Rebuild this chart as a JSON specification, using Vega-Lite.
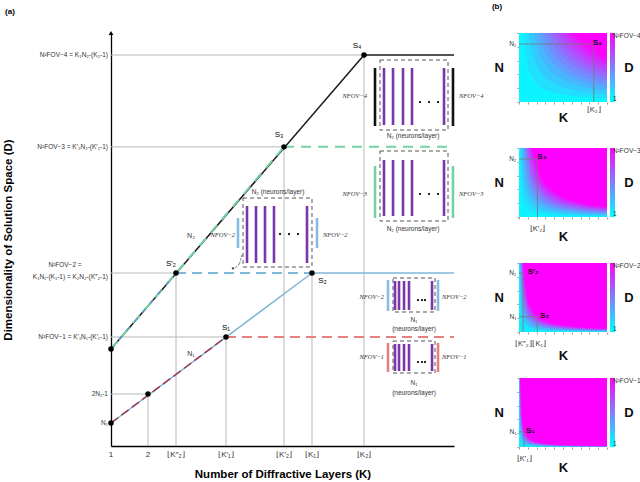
{
"$schema": "https://vega.github.io/schema/vega-lite/v6.json",
"padding": {"left": 2, "top": 2, "right": 0, "bottom": 0},
"spacing": 7,
"datasets": {
"seg": [
{"t":"ref","k":1,"d":124.21,"k2":7.838,"d2":124.21},
{"t":"ref","k":1,"d":95.7,"k2":5.676,"d2":95.7},
{"t":"ref","k":1,"d":56.55,"k2":2.757,"d2":56.55},
{"t":"ref","k":1,"d":36.69,"k2":4.108,"d2":36.69},
{"t":"ref","k":1,"d":19,"k2":2,"d2":19},
{"t":"ref","k":2,"d":2.86,"k2":2,"d2":19},
{"t":"ref","k":2.757,"d":2.86,"k2":2.757,"d2":56.55},
{"t":"ref","k":4.108,"d":2.86,"k2":4.108,"d2":36.69},
{"t":"ref","k":5.676,"d":2.86,"k2":5.676,"d2":95.7},
{"t":"ref","k":6.432,"d":2.86,"k2":6.432,"d2":56.55},
{"t":"ref","k":7.838,"d":2.86,"k2":7.838,"d2":124.21},
{"t":"n1","k":1,"d":10,"k2":6.432,"d2":56.55},
{"t":"n1","k":6.432,"d":56.55,"k2":10.27,"d2":56.55},
{"t":"n1d","k":1,"d":10,"k2":4.108,"d2":36.69},
{"t":"rd","k":4.108,"d":36.69,"k2":10.27,"d2":36.69},
{"t":"bd","k":2.757,"d":56.55,"k2":6.432,"d2":56.55},
{"t":"n2","k":1,"d":32.96,"k2":7.838,"d2":124.21},
{"t":"n2","k":7.838,"d":124.21,"k2":10.27,"d2":124.21},
{"t":"gd","k":1,"d":32.96,"k2":5.676,"d2":95.7},
{"t":"gd","k":5.676,"d":95.7,"k2":10.27,"d2":95.7},
{"t":"bd2","k":1,"d":32.96,"k2":2.757,"d2":56.55},
{"t":"ar","k":4.541,"d":62.14,"k2":4.473,"d2":59.35},
{"t":"ar","k":4.473,"d":59.35,"k2":4.351,"d2":58.1}
],
"box": [
{"k":8.27,"d":122.66,"k2":10.108,"d2":100.93},
{"k":8.27,"d":94.42,"k2":10.108,"d2":72.69},
{"k":8.622,"d":55.0,"k2":9.757,"d2":44.45},
{"k":8.622,"d":35.44,"k2":9.757,"d2":25.52},
{"k":4.568,"d":79.83,"k2":6.432,"d2":58.41}
],
"bar": [
{"t":"pu","k":8.378,"d":120.18,"d2":102.48},{"t":"pu","k":8.622,"d":120.18,"d2":102.48},{"t":"pu","k":8.892,"d":120.18,"d2":102.48},{"t":"pu","k":9.135,"d":120.18,"d2":102.48},{"t":"pu","k":10.0,"d":120.18,"d2":102.48},
{"t":"bk","k":8.135,"d":120.18,"d2":102.17},{"t":"bk","k":10.243,"d":120.18,"d2":102.17},
{"t":"pu","k":8.378,"d":91.62,"d2":74.24},{"t":"pu","k":8.622,"d":91.62,"d2":74.24},{"t":"pu","k":8.892,"d":91.62,"d2":74.24},{"t":"pu","k":9.135,"d":91.62,"d2":74.24},{"t":"pu","k":10.0,"d":91.62,"d2":74.24},
{"t":"gr","k":8.135,"d":89.76,"d2":73.62},{"t":"gr","k":10.243,"d":89.76,"d2":73.62},
{"t":"pu","k":8.676,"d":54.07,"d2":45.07},{"t":"pu","k":8.784,"d":54.07,"d2":45.07},{"t":"pu","k":8.919,"d":54.07,"d2":45.07},{"t":"pu","k":9.054,"d":54.07,"d2":45.07},{"t":"pu","k":9.676,"d":54.07,"d2":45.07},
{"t":"bl","k":8.486,"d":54.38,"d2":44.76},{"t":"bl","k":9.838,"d":54.38,"d2":44.76},
{"t":"pu","k":8.676,"d":34.51,"d2":26.14},{"t":"pu","k":8.784,"d":34.51,"d2":26.14},{"t":"pu","k":8.919,"d":34.51,"d2":26.14},{"t":"pu","k":9.054,"d":34.51,"d2":26.14},{"t":"pu","k":9.676,"d":34.51,"d2":26.14},
{"t":"rd","k":8.486,"d":34.82,"d2":25.83},{"t":"rd","k":9.838,"d":34.82,"d2":25.83},
{"t":"pu","k":4.676,"d":77.35,"d2":59.65},{"t":"pu","k":4.919,"d":77.35,"d2":59.65},{"t":"pu","k":5.162,"d":77.35,"d2":59.65},{"t":"pu","k":5.405,"d":77.35,"d2":59.65},{"t":"pu","k":6.297,"d":77.35,"d2":59.65},
{"t":"bl","k":4.432,"d":73.62,"d2":64.31},{"t":"bl","k":6.568,"d":73.62,"d2":64.31}
],
"dot": [
{"k":9.351,"d":109.62},{"k":9.595,"d":109.62},{"k":9.838,"d":109.62},
{"k":9.351,"d":81.07},{"k":9.595,"d":81.07},{"k":9.838,"d":81.07},
{"k":9.297,"d":48.17},{"k":9.405,"d":48.17},{"k":9.486,"d":48.17},
{"k":9.297,"d":28.93},{"k":9.405,"d":28.93},{"k":9.486,"d":28.93},
{"k":5.568,"d":68.65},{"k":5.811,"d":68.65},{"k":6.054,"d":68.65}
],
"pt": [
{"k":1,"d":10},{"k":2,"d":19},{"k":4.108,"d":36.69},{"k":6.432,"d":56.55},
{"k":1,"d":32.96},{"k":2.757,"d":56.55},{"k":5.676,"d":95.7},{"k":7.838,"d":124.21}
],
"arw": [
{"t":"y","k":1,"d":131.04},
{"t":"p","k":4.297,"d":57.9}
],
"txt": [
{"t":"lab","k":0.919,"d":124.21,"s":"N²FOV−4 = K₂N₂-(K₂-1)"},
{"t":"lab","k":0.919,"d":95.7,"s":"N²FOV−3 = K′₂N₂-(K′₂-1)"},
{"t":"lab","k":0.919,"d":55.31,"s":"K₁N₁-(K₁-1) = K₂N₂-(K″₂-1)"},
{"t":"lab","k":0.919,"d":36.69,"s":"N²FOV−1 = K′₁N₁-(K′₁-1)"},
{"t":"lab","k":0.919,"d":19,"s":"2N₁-1"},
{"t":"lab","k":0.919,"d":10,"s":"N₁"},
{"t":"labc","k":-0.243,"d":58.9,"s":"N²FOV−2 ="},
{"t":"xl","k":1,"d":0.06,"s":"1"},
{"t":"xl","k":2,"d":0.06,"s":"2"},
{"t":"xl","k":2.757,"d":0.06,"s":"⌊K″₂⌋"},
{"t":"xl","k":4.108,"d":0.06,"s":"⌊K′₁⌋"},
{"t":"xl","k":5.676,"d":0.06,"s":"⌊K′₂⌋"},
{"t":"xl","k":6.432,"d":0.06,"s":"⌊K₁⌋"},
{"t":"xl","k":7.838,"d":0.06,"s":"⌊K₂⌋"},
{"t":"pt","k":4.108,"d":39.6,"s":"S₁"},
{"t":"pt","k":2.62,"d":59.2,"s":"S′₂"},
{"t":"pt","k":5.54,"d":99.4,"s":"S₃"},
{"t":"pt","k":7.65,"d":127.0,"s":"S₄"},
{"t":"ptl","k":6.6,"d":54.0,"s":"S₂"},
{"t":"nl","k":3.162,"d":31.41,"s":"N₁"},
{"t":"nl","k":3.162,"d":68.03,"s":"N₂"},
{"t":"ins","k":9.162,"d":99.07,"s":"N₂ (neurons/layer)"},
{"t":"ins","k":9.162,"d":70.21,"s":"N₂ (neurons/layer)"},
{"t":"ins","k":5.514,"d":81.69,"s":"N₂ (neurons/layer)"},
{"t":"ins","k":9.189,"d":41.97,"s":"N₁"},
{"t":"ins","k":9.189,"d":39.17,"s":"(neurons/layer)"},
{"t":"ins","k":9.189,"d":22.41,"s":"N₁"},
{"t":"ins","k":9.189,"d":19.31,"s":"(neurons/layer)"},
{"t":"fovl","k":7.92,"d":111.5,"s":"NFOV−4"},
{"t":"fovl","k":7.92,"d":81.07,"s":"NFOV−3"},
{"t":"fovl","k":8.378,"d":49.1,"s":"NFOV−2"},
{"t":"fovl","k":8.378,"d":30.48,"s":"NFOV−1"},
{"t":"fovl","k":4.351,"d":68.34,"s":"NFOV−2"},
{"t":"fovr","k":10.405,"d":111.5,"s":"NFOV−4"},
{"t":"fovr","k":10.405,"d":81.07,"s":"NFOV−3"},
{"t":"fovr","k":9.946,"d":49.1,"s":"NFOV−2"},
{"t":"fovr","k":9.946,"d":30.48,"s":"NFOV−1"},
{"t":"fovr","k":6.73,"d":68.34,"s":"NFOV−2"},
{"t":"pan","k":-1.73,"d":137.6,"s":"(a)"}
],
"bg": [
{"p":1,"u":0,"u2":1,"v":0,"v2":1,"c":0.042},
{"p":2,"u":0,"u2":1,"v":0,"v2":1,"c":0.042},
{"p":3,"u":0,"u2":1,"v":0,"v2":1,"c":0.083},
{"p":4,"u":0,"u2":1,"v":0,"v2":1,"c":0.083}
],
"hm": [
{"p":1,"i":11,"c":0.125,"u":0.0542,"v":1},{"p":1,"i":11,"c":0.125,"u":0.0971,"v":0.5582},{"p":1,"i":11,"c":0.125,"u":0.1739,"v":0.3116},{"p":1,"i":11,"c":0.125,"u":0.3116,"v":0.1739},{"p":1,"i":11,"c":0.125,"u":0.5582,"v":0.0971},{"p":1,"i":11,"c":0.125,"u":1,"v":0.0542},
{"p":1,"i":12,"c":0.208,"u":0.1083,"v":1},{"p":1,"i":12,"c":0.208,"u":0.169,"v":0.6412},{"p":1,"i":12,"c":0.208,"u":0.2636,"v":0.4111},{"p":1,"i":12,"c":0.208,"u":0.4111,"v":0.2636},{"p":1,"i":12,"c":0.208,"u":0.6412,"v":0.169},{"p":1,"i":12,"c":0.208,"u":1,"v":0.1083},
{"p":1,"i":13,"c":0.292,"u":0.1625,"v":1},{"p":1,"i":13,"c":0.292,"u":0.2337,"v":0.6953},{"p":1,"i":13,"c":0.292,"u":0.3361,"v":0.4834},{"p":1,"i":13,"c":0.292,"u":0.4834,"v":0.3361},{"p":1,"i":13,"c":0.292,"u":0.6953,"v":0.2337},{"p":1,"i":13,"c":0.292,"u":1,"v":0.1625},
{"p":1,"i":14,"c":0.375,"u":0.2167,"v":1},{"p":1,"i":14,"c":0.375,"u":0.2942,"v":0.7365},{"p":1,"i":14,"c":0.375,"u":0.3995,"v":0.5424},{"p":1,"i":14,"c":0.375,"u":0.5424,"v":0.3995},{"p":1,"i":14,"c":0.375,"u":0.7365,"v":0.2942},{"p":1,"i":14,"c":0.375,"u":1,"v":0.2167},
{"p":1,"i":15,"c":0.458,"u":0.2708,"v":1},{"p":1,"i":15,"c":0.458,"u":0.3517,"v":0.7701},{"p":1,"i":15,"c":0.458,"u":0.4567,"v":0.5931},{"p":1,"i":15,"c":0.458,"u":0.5931,"v":0.4567},{"p":1,"i":15,"c":0.458,"u":0.7701,"v":0.3517},{"p":1,"i":15,"c":0.458,"u":1,"v":0.2708},
{"p":1,"i":16,"c":0.542,"u":0.325,"v":1},{"p":1,"i":16,"c":0.542,"u":0.4069,"v":0.7987},{"p":1,"i":16,"c":0.542,"u":0.5095,"v":0.6379},{"p":1,"i":16,"c":0.542,"u":0.6379,"v":0.5095},{"p":1,"i":16,"c":0.542,"u":0.7987,"v":0.4069},{"p":1,"i":16,"c":0.542,"u":1,"v":0.325},
{"p":1,"i":17,"c":0.625,"u":0.3792,"v":1},{"p":1,"i":17,"c":0.625,"u":0.4604,"v":0.8237},{"p":1,"i":17,"c":0.625,"u":0.5589,"v":0.6785},{"p":1,"i":17,"c":0.625,"u":0.6785,"v":0.5589},{"p":1,"i":17,"c":0.625,"u":0.8237,"v":0.4604},{"p":1,"i":17,"c":0.625,"u":1,"v":0.3792},
{"p":1,"i":18,"c":0.708,"u":0.4333,"v":1},{"p":1,"i":18,"c":0.708,"u":0.5122,"v":0.846},{"p":1,"i":18,"c":0.708,"u":0.6055,"v":0.7157},{"p":1,"i":18,"c":0.708,"u":0.7157,"v":0.6055},{"p":1,"i":18,"c":0.708,"u":0.846,"v":0.5122},{"p":1,"i":18,"c":0.708,"u":1,"v":0.4333},
{"p":1,"i":19,"c":0.792,"u":0.4875,"v":1},{"p":1,"i":19,"c":0.792,"u":0.5627,"v":0.8661},{"p":1,"i":19,"c":0.792,"u":0.6497,"v":0.7501},{"p":1,"i":19,"c":0.792,"u":0.7501,"v":0.6497},{"p":1,"i":19,"c":0.792,"u":0.8661,"v":0.5627},{"p":1,"i":19,"c":0.792,"u":1,"v":0.4875},
{"p":1,"i":20,"c":0.875,"u":0.5417,"v":1},{"p":1,"i":20,"c":0.875,"u":0.6123,"v":0.8846},{"p":1,"i":20,"c":0.875,"u":0.6922,"v":0.7825},{"p":1,"i":20,"c":0.875,"u":0.7825,"v":0.6922},{"p":1,"i":20,"c":0.875,"u":0.8846,"v":0.6123},{"p":1,"i":20,"c":0.875,"u":1,"v":0.5417},
{"p":1,"i":21,"c":0.958,"u":0.5958,"v":1},{"p":1,"i":21,"c":0.958,"u":0.6608,"v":0.9016},{"p":1,"i":21,"c":0.958,"u":0.7329,"v":0.8129},{"p":1,"i":21,"c":0.958,"u":0.8129,"v":0.7329},{"p":1,"i":21,"c":0.958,"u":0.9016,"v":0.6608},{"p":1,"i":21,"c":0.958,"u":1,"v":0.5958},
{"p":1,"i":22,"c":1,"u":0.65,"v":1},{"p":1,"i":22,"c":1,"u":0.7086,"v":0.9175},{"p":1,"i":22,"c":1,"u":0.7723,"v":0.8418},{"p":1,"i":22,"c":1,"u":0.8418,"v":0.7723},{"p":1,"i":22,"c":1,"u":0.9175,"v":0.7086},{"p":1,"i":22,"c":1,"u":1,"v":0.65},
{"p":2,"i":11,"c":0.125,"u":0.0125,"v":1},{"p":2,"i":11,"c":0.125,"u":0.03,"v":0.4163},{"p":2,"i":11,"c":0.125,"u":0.0722,"v":0.1733},{"p":2,"i":11,"c":0.125,"u":0.1733,"v":0.0722},{"p":2,"i":11,"c":0.125,"u":0.4163,"v":0.03},{"p":2,"i":11,"c":0.125,"u":1,"v":0.0125},
{"p":2,"i":12,"c":0.208,"u":0.025,"v":1},{"p":2,"i":12,"c":0.208,"u":0.0523,"v":0.4782},{"p":2,"i":12,"c":0.208,"u":0.1094,"v":0.2287},{"p":2,"i":12,"c":0.208,"u":0.2287,"v":0.1094},{"p":2,"i":12,"c":0.208,"u":0.4782,"v":0.0523},{"p":2,"i":12,"c":0.208,"u":1,"v":0.025},
{"p":2,"i":13,"c":0.292,"u":0.0375,"v":1},{"p":2,"i":13,"c":0.292,"u":0.0723,"v":0.5186},{"p":2,"i":13,"c":0.292,"u":0.1395,"v":0.269},{"p":2,"i":13,"c":0.292,"u":0.269,"v":0.1395},{"p":2,"i":13,"c":0.292,"u":0.5186,"v":0.0723},{"p":2,"i":13,"c":0.292,"u":1,"v":0.0375},
{"p":2,"i":14,"c":0.375,"u":0.05,"v":1},{"p":2,"i":14,"c":0.375,"u":0.091,"v":0.5493},{"p":2,"i":14,"c":0.375,"u":0.1657,"v":0.3017},{"p":2,"i":14,"c":0.375,"u":0.3017,"v":0.1657},{"p":2,"i":14,"c":0.375,"u":0.5493,"v":0.091},{"p":2,"i":14,"c":0.375,"u":1,"v":0.05},
{"p":2,"i":15,"c":0.458,"u":0.0625,"v":1},{"p":2,"i":15,"c":0.458,"u":0.1088,"v":0.5744},{"p":2,"i":15,"c":0.458,"u":0.1895,"v":0.3299},{"p":2,"i":15,"c":0.458,"u":0.3299,"v":0.1895},{"p":2,"i":15,"c":0.458,"u":0.5744,"v":0.1088},{"p":2,"i":15,"c":0.458,"u":1,"v":0.0625},
{"p":2,"i":16,"c":0.542,"u":0.075,"v":1},{"p":2,"i":16,"c":0.542,"u":0.1259,"v":0.5957},{"p":2,"i":16,"c":0.542,"u":0.2114,"v":0.3549},{"p":2,"i":16,"c":0.542,"u":0.3549,"v":0.2114},{"p":2,"i":16,"c":0.542,"u":0.5957,"v":0.1259},{"p":2,"i":16,"c":0.542,"u":1,"v":0.075},
{"p":2,"i":17,"c":0.625,"u":0.0875,"v":1},{"p":2,"i":17,"c":0.625,"u":0.1424,"v":0.6143},{"p":2,"i":17,"c":0.625,"u":0.2318,"v":0.3774},{"p":2,"i":17,"c":0.625,"u":0.3774,"v":0.2318},{"p":2,"i":17,"c":0.625,"u":0.6143,"v":0.1424},{"p":2,"i":17,"c":0.625,"u":1,"v":0.0875},
{"p":2,"i":18,"c":0.708,"u":0.1,"v":1},{"p":2,"i":18,"c":0.708,"u":0.1585,"v":0.631},{"p":2,"i":18,"c":0.708,"u":0.2512,"v":0.3981},{"p":2,"i":18,"c":0.708,"u":0.3981,"v":0.2512},{"p":2,"i":18,"c":0.708,"u":0.631,"v":0.1585},{"p":2,"i":18,"c":0.708,"u":1,"v":0.1},
{"p":2,"i":19,"c":0.792,"u":0.1125,"v":1},{"p":2,"i":19,"c":0.792,"u":0.1741,"v":0.646},{"p":2,"i":19,"c":0.792,"u":0.2696,"v":0.4173},{"p":2,"i":19,"c":0.792,"u":0.4173,"v":0.2696},{"p":2,"i":19,"c":0.792,"u":0.646,"v":0.1741},{"p":2,"i":19,"c":0.792,"u":1,"v":0.1125},
{"p":2,"i":20,"c":0.875,"u":0.125,"v":1},{"p":2,"i":20,"c":0.875,"u":0.1895,"v":0.6598},{"p":2,"i":20,"c":0.875,"u":0.2872,"v":0.4353},{"p":2,"i":20,"c":0.875,"u":0.4353,"v":0.2872},{"p":2,"i":20,"c":0.875,"u":0.6598,"v":0.1895},{"p":2,"i":20,"c":0.875,"u":1,"v":0.125},
{"p":2,"i":21,"c":0.958,"u":0.1375,"v":1},{"p":2,"i":21,"c":0.958,"u":0.2044,"v":0.6724},{"p":2,"i":21,"c":0.958,"u":0.304,"v":0.4521},{"p":2,"i":21,"c":0.958,"u":0.4521,"v":0.304},{"p":2,"i":21,"c":0.958,"u":0.6724,"v":0.2044},{"p":2,"i":21,"c":0.958,"u":1,"v":0.1375},
{"p":2,"i":22,"c":1,"u":0.15,"v":1},{"p":2,"i":22,"c":1,"u":0.2193,"v":0.6843},{"p":2,"i":22,"c":1,"u":0.3205,"v":0.4683},{"p":2,"i":22,"c":1,"u":0.4683,"v":0.3205},{"p":2,"i":22,"c":1,"u":0.6843,"v":0.2193},{"p":2,"i":22,"c":1,"u":1,"v":0.15},
{"p":3,"i":11,"c":0.25,"u":0.0083,"v":1},{"p":3,"i":11,"c":0.25,"u":0.0217,"v":0.3838},{"p":3,"i":11,"c":0.25,"u":0.0565,"v":0.1473},{"p":3,"i":11,"c":0.25,"u":0.1473,"v":0.0565},{"p":3,"i":11,"c":0.25,"u":0.3838,"v":0.0217},{"p":3,"i":11,"c":0.25,"u":1,"v":0.0083},
{"p":3,"i":12,"c":0.417,"u":0.0167,"v":1},{"p":3,"i":12,"c":0.417,"u":0.0378,"v":0.4409},{"p":3,"i":12,"c":0.417,"u":0.0857,"v":0.1944},{"p":3,"i":12,"c":0.417,"u":0.1944,"v":0.0857},{"p":3,"i":12,"c":0.417,"u":0.4409,"v":0.0378},{"p":3,"i":12,"c":0.417,"u":1,"v":0.0167},
{"p":3,"i":13,"c":0.583,"u":0.025,"v":1},{"p":3,"i":13,"c":0.583,"u":0.0523,"v":0.4782},{"p":3,"i":13,"c":0.583,"u":0.1094,"v":0.2287},{"p":3,"i":13,"c":0.583,"u":0.2287,"v":0.1094},{"p":3,"i":13,"c":0.583,"u":0.4782,"v":0.0523},{"p":3,"i":13,"c":0.583,"u":1,"v":0.025},
{"p":3,"i":14,"c":0.75,"u":0.0333,"v":1},{"p":3,"i":14,"c":0.75,"u":0.0658,"v":0.5065},{"p":3,"i":14,"c":0.75,"u":0.1299,"v":0.2565},{"p":3,"i":14,"c":0.75,"u":0.2565,"v":0.1299},{"p":3,"i":14,"c":0.75,"u":0.5065,"v":0.0658},{"p":3,"i":14,"c":0.75,"u":1,"v":0.0333},
{"p":3,"i":15,"c":0.917,"u":0.0417,"v":1},{"p":3,"i":15,"c":0.917,"u":0.0787,"v":0.5296},{"p":3,"i":15,"c":0.917,"u":0.1485,"v":0.2805},{"p":3,"i":15,"c":0.917,"u":0.2805,"v":0.1485},{"p":3,"i":15,"c":0.917,"u":0.5296,"v":0.0787},{"p":3,"i":15,"c":0.917,"u":1,"v":0.0417},
{"p":3,"i":16,"c":1,"u":0.05,"v":1},{"p":3,"i":16,"c":1,"u":0.091,"v":0.5493},{"p":3,"i":16,"c":1,"u":0.1657,"v":0.3017},{"p":3,"i":16,"c":1,"u":0.3017,"v":0.1657},{"p":3,"i":16,"c":1,"u":0.5493,"v":0.091},{"p":3,"i":16,"c":1,"u":1,"v":0.05},
{"p":4,"i":11,"c":0.25,"u":0.0025,"v":1},{"p":4,"i":11,"c":0.25,"u":0.0083,"v":0.3017},{"p":4,"i":11,"c":0.25,"u":0.0275,"v":0.091},{"p":4,"i":11,"c":0.25,"u":0.091,"v":0.0275},{"p":4,"i":11,"c":0.25,"u":0.3017,"v":0.0083},{"p":4,"i":11,"c":0.25,"u":1,"v":0.0025},
{"p":4,"i":12,"c":0.417,"u":0.005,"v":1},{"p":4,"i":12,"c":0.417,"u":0.0144,"v":0.3466},{"p":4,"i":12,"c":0.417,"u":0.0416,"v":0.1201},{"p":4,"i":12,"c":0.417,"u":0.1201,"v":0.0416},{"p":4,"i":12,"c":0.417,"u":0.3466,"v":0.0144},{"p":4,"i":12,"c":0.417,"u":1,"v":0.005},
{"p":4,"i":13,"c":0.583,"u":0.0075,"v":1},{"p":4,"i":13,"c":0.583,"u":0.0199,"v":0.3758},{"p":4,"i":13,"c":0.583,"u":0.0531,"v":0.1412},{"p":4,"i":13,"c":0.583,"u":0.1412,"v":0.0531},{"p":4,"i":13,"c":0.583,"u":0.3758,"v":0.0199},{"p":4,"i":13,"c":0.583,"u":1,"v":0.0075},
{"p":4,"i":14,"c":0.75,"u":0.01,"v":1},{"p":4,"i":14,"c":0.75,"u":0.0251,"v":0.3981},{"p":4,"i":14,"c":0.75,"u":0.0631,"v":0.1585},{"p":4,"i":14,"c":0.75,"u":0.1585,"v":0.0631},{"p":4,"i":14,"c":0.75,"u":0.3981,"v":0.0251},{"p":4,"i":14,"c":0.75,"u":1,"v":0.01},
{"p":4,"i":15,"c":0.917,"u":0.0125,"v":1},{"p":4,"i":15,"c":0.917,"u":0.03,"v":0.4163},{"p":4,"i":15,"c":0.917,"u":0.0722,"v":0.1733},{"p":4,"i":15,"c":0.917,"u":0.1733,"v":0.0722},{"p":4,"i":15,"c":0.917,"u":0.4163,"v":0.03},{"p":4,"i":15,"c":0.917,"u":1,"v":0.0125},
{"p":4,"i":16,"c":1,"u":0.015,"v":1},{"p":4,"i":16,"c":1,"u":0.0347,"v":0.4317},{"p":4,"i":16,"c":1,"u":0.0805,"v":0.1864},{"p":4,"i":16,"c":1,"u":0.1864,"v":0.0805},{"p":4,"i":16,"c":1,"u":0.4317,"v":0.0347},{"p":4,"i":16,"c":1,"u":1,"v":0.015}
],
"hl": [
{"p":1,"u":0,"v":0.84,"u2":0.85,"v2":0.84},{"p":1,"u":0.85,"v":0,"u2":0.85,"v2":0.84},
{"p":2,"u":0,"v":0.84,"u2":0.21,"v2":0.84},{"p":2,"u":0.21,"v":0,"u2":0.21,"v2":0.84},
{"p":3,"u":0,"v":0.855,"u2":0.045,"v2":0.855},{"p":3,"u":0.045,"v":0,"u2":0.045,"v2":0.855},
{"p":3,"u":0,"v":0.22,"u2":0.207,"v2":0.22},{"p":3,"u":0.207,"v":0,"u2":0.207,"v2":0.22},
{"p":4,"u":0,"v":0.22,"u2":0.057,"v2":0.22},{"p":4,"u":0.057,"v":0,"u2":0.057,"v2":0.22}
],
"ht": [
{"p":1,"t":"l","u":-0.03,"v":0.84,"s":"N₂"},
{"p":1,"t":"s","u":0.89,"v":0.86,"s":"S₄"},
{"p":1,"t":"k","u":0.85,"v":-0.12,"s":"⌊K₂⌋"},
{"p":1,"t":"D","u":1.25,"v":0.5,"s":"D"},
{"p":1,"t":"b","u":-0.25,"v":1.38,"s":"(b)"},
{"p":2,"t":"l","u":-0.03,"v":0.84,"s":"N₂"},
{"p":2,"t":"s","u":0.26,"v":0.87,"s":"S₃"},
{"p":2,"t":"k","u":0.21,"v":-0.17,"s":"⌊K′₂⌋"},
{"p":2,"t":"D","u":1.25,"v":0.5,"s":"D"},
{"p":3,"t":"l","u":-0.03,"v":0.855,"s":"N₂"},
{"p":3,"t":"s","u":0.16,"v":0.87,"s":"S′₂"},
{"p":3,"t":"l","u":-0.03,"v":0.22,"s":"N₁"},
{"p":3,"t":"s","u":0.29,"v":0.23,"s":"S₂"},
{"p":3,"t":"k","u":0.05,"v":-0.17,"s":"⌊K″₂⌋"},
{"p":3,"t":"k","u":0.23,"v":-0.17,"s":"⌊K₁⌋"},
{"p":3,"t":"D","u":1.25,"v":0.5,"s":"D"},
{"p":4,"t":"l","u":-0.03,"v":0.22,"s":"N₁"},
{"p":4,"t":"s","u":0.13,"v":0.23,"s":"S₁"},
{"p":4,"t":"k","u":0.06,"v":-0.18,"s":"⌊K′₁⌋"},
{"p":4,"t":"D","u":1.25,"v":0.5,"s":"D"}
]
},
"hconcat": [
{
"width": 343, "height": 413,
"encoding": {
 "x": {"field":"k","type":"quantitative","scale":{"domain":[1,10.27],"nice":false,"zero":false},"axis":{"title":"Number of Diffractive Layers (K)","labels":false,"ticks":false,"grid":false,"domainColor":"#000","domainWidth":1.3,"titleFontSize":11.5,"titleFontWeight":"bold","titlePadding":22,"titleColor":"#000"}},
 "y": {"field":"d","type":"quantitative","scale":{"domain":[2.86,131.04],"nice":false,"zero":false},"axis":{"title":"Dimensionality of Solution Space (D)","labels":false,"ticks":false,"grid":false,"domainColor":"#000","domainWidth":1.3,"titleFontSize":11.5,"titleFontWeight":"bold","titlePadding":98,"titleColor":"#000"}}
},
"layer": [
 {"data":{"name":"seg"},"transform":[{"filter":"datum.t=='ref'"}],"mark":{"type":"rule","color":"#b8b8b8","strokeWidth":1},"encoding":{"x2":{"field":"k2"},"y2":{"field":"d2"}}},
 {"data":{"name":"seg"},"transform":[{"filter":"datum.t=='n1'"}],"mark":{"type":"rule","color":"#80b6d8","strokeWidth":1.5},"encoding":{"x2":{"field":"k2"},"y2":{"field":"d2"}}},
 {"data":{"name":"seg"},"transform":[{"filter":"datum.t=='n1d'"}],"mark":{"type":"rule","color":"#9e3a55","strokeWidth":1.5,"strokeDash":[9,4]},"encoding":{"x2":{"field":"k2"},"y2":{"field":"d2"}}},
 {"data":{"name":"seg"},"transform":[{"filter":"datum.t=='rd'"}],"mark":{"type":"rule","color":"#e58080","strokeWidth":2,"strokeDash":[10,6]},"encoding":{"x2":{"field":"k2"},"y2":{"field":"d2"}}},
 {"data":{"name":"seg"},"transform":[{"filter":"datum.t=='bd'"}],"mark":{"type":"rule","color":"#80b6d8","strokeWidth":2,"strokeDash":[10,6]},"encoding":{"x2":{"field":"k2"},"y2":{"field":"d2"}}},
 {"data":{"name":"seg"},"transform":[{"filter":"datum.t=='n2'"}],"mark":{"type":"rule","color":"#1a1a1a","strokeWidth":1.5},"encoding":{"x2":{"field":"k2"},"y2":{"field":"d2"}}},
 {"data":{"name":"seg"},"transform":[{"filter":"datum.t=='gd'"}],"mark":{"type":"rule","color":"#74d3a5","strokeWidth":2,"strokeDash":[10,7]},"encoding":{"x2":{"field":"k2"},"y2":{"field":"d2"}}},
 {"data":{"name":"seg"},"transform":[{"filter":"datum.t=='bd2'"}],"mark":{"type":"rule","color":"#5a9fc8","strokeWidth":1.5,"strokeDash":[5,7]},"encoding":{"x2":{"field":"k2"},"y2":{"field":"d2"}}},
 {"data":{"name":"seg"},"transform":[{"filter":"datum.t=='ar'"}],"mark":{"type":"rule","color":"#444","strokeWidth":0.8,"strokeDash":[2,1.5]},"encoding":{"x2":{"field":"k2"},"y2":{"field":"d2"}}},
 {"data":{"name":"box"},"mark":{"type":"rect","filled":false,"stroke":"#555","strokeWidth":1,"strokeDash":[4,3]},"encoding":{"x2":{"field":"k2"},"y2":{"field":"d2"}}},
 {"data":{"name":"bar"},"mark":{"type":"rule","strokeWidth":2.6},"encoding":{"y2":{"field":"d2"},"color":{"field":"t","type":"nominal","legend":null,"scale":{"domain":["pu","bk","gr","bl","rd"],"range":["#7b36a8","#111111","#74d3a5","#86bde0","#e57f7f"]}}}},
 {"data":{"name":"dot"},"mark":{"type":"circle","size":5,"color":"#000","opacity":1}},
 {"data":{"name":"pt"},"mark":{"type":"circle","size":30,"color":"#000","opacity":1}},
 {"data":{"name":"arw"},"transform":[{"filter":"datum.t=='y'"}],"mark":{"type":"point","shape":"triangle-up","size":22,"filled":true,"color":"#000","opacity":1}},
 {"data":{"name":"arw"},"transform":[{"filter":"datum.t=='p'"}],"mark":{"type":"point","shape":"triangle-down","size":8,"filled":true,"color":"#222","opacity":1}},
 {"data":{"name":"txt"},"transform":[{"filter":"datum.t=='lab'"}],"mark":{"type":"text","align":"right","baseline":"middle","fontSize":6.5,"color":"#333"},"encoding":{"text":{"field":"s"}}},
 {"data":{"name":"txt"},"transform":[{"filter":"datum.t=='labc'"}],"mark":{"type":"text","align":"center","baseline":"middle","fontSize":6.5,"color":"#333"},"encoding":{"text":{"field":"s"}}},
 {"data":{"name":"txt"},"transform":[{"filter":"datum.t=='xl'"}],"mark":{"type":"text","align":"center","baseline":"middle","fontSize":8,"color":"#333"},"encoding":{"text":{"field":"s"}}},
 {"data":{"name":"txt"},"transform":[{"filter":"datum.t=='pt'"}],"mark":{"type":"text","align":"center","baseline":"middle","fontSize":8,"color":"#000"},"encoding":{"text":{"field":"s"}}},
 {"data":{"name":"txt"},"transform":[{"filter":"datum.t=='ptl'"}],"mark":{"type":"text","align":"left","baseline":"middle","fontSize":8,"color":"#000"},"encoding":{"text":{"field":"s"}}},
 {"data":{"name":"txt"},"transform":[{"filter":"datum.t=='nl'"}],"mark":{"type":"text","align":"center","baseline":"middle","fontSize":7,"color":"#333"},"encoding":{"text":{"field":"s"}}},
 {"data":{"name":"txt"},"transform":[{"filter":"datum.t=='ins'"}],"mark":{"type":"text","align":"center","baseline":"middle","fontSize":6.5,"color":"#333"},"encoding":{"text":{"field":"s"}}},
 {"data":{"name":"txt"},"transform":[{"filter":"datum.t=='fovl'"}],"mark":{"type":"text","align":"right","baseline":"middle","fontSize":6.5,"font":"Liberation Serif","fontStyle":"italic","color":"#333"},"encoding":{"text":{"field":"s"}}},
 {"data":{"name":"txt"},"transform":[{"filter":"datum.t=='fovr'"}],"mark":{"type":"text","align":"left","baseline":"middle","fontSize":6.5,"font":"Liberation Serif","fontStyle":"italic","color":"#333"},"encoding":{"text":{"field":"s"}}},
 {"data":{"name":"txt"},"transform":[{"filter":"datum.t=='pan'"}],"mark":{"type":"text","align":"center","baseline":"middle","fontSize":8,"fontWeight":"bold","color":"#000"},"encoding":{"text":{"field":"s"}}}
]
},
{
"vconcat": [
{
"width": 88, "height": 69,
"encoding": {
 "x": {"field":"u","type":"quantitative","scale":{"domain":[0,1],"nice":false,"zero":false},"axis":{"title":"K","labels":false,"ticks":true,"tickSize":2,"tickCount":8,"tickColor":"#999","domain":false,"grid":false,"titleFontSize":13,"titleFontWeight":"bold","titlePadding":7,"titleColor":"#111"}},
 "y": {"field":"v","type":"quantitative","scale":{"domain":[0,1],"nice":false,"zero":false},"axis":{"title":"N","labels":false,"ticks":true,"tickSize":2,"tickCount":6,"tickColor":"#999","domain":false,"grid":false,"titleFontSize":13,"titleFontWeight":"bold","titleAngle":0,"titleAlign":"right","titleBaseline":"middle","titlePadding":13,"titleColor":"#111"}}
},
"layer": [
 {"data":{"name":"bg"},"transform":[{"filter":"datum.p==1"}],"mark":"rect","encoding":{"x2":{"field":"u2"},"y2":{"field":"v2"},"color":{"field":"c","type":"quantitative","scale":{"domain":[0,1],"range":["#00ffff","#ff00ff"],"interpolate":"rgb"},"legend":{"title":null,"orient":"right","offset":3,"gradientLength":69,"gradientThickness":5,"gradientStrokeWidth":0,"values":[0,1],"labelExpr":"datum.value==0 ? '1' : 'N²FOV−4'","labelFontSize":6.5,"labelColor":"#333","labelOffset":-2,"padding":0}}}},
 {"data":{"name":"hm"},"transform":[{"filter":"datum.p==1"}],"mark":{"type":"area","interpolate":"monotone"},"encoding":{"y2":{"datum":1},"detail":{"field":"i","type":"nominal"},"color":{"field":"c","type":"quantitative","scale":{"domain":[0,1],"range":["#00ffff","#ff00ff"],"interpolate":"rgb"},"legend":{"title":null,"orient":"right","offset":3,"gradientLength":69,"gradientThickness":5,"gradientStrokeWidth":0,"values":[0,1],"labelExpr":"datum.value==0 ? '1' : 'N²FOV−4'","labelFontSize":6.5,"labelColor":"#333","labelOffset":-2,"padding":0}}}},
 {"data":{"name":"hl"},"transform":[{"filter":"datum.p==1"}],"mark":{"type":"rule","color":"#777","strokeWidth":0.8},"encoding":{"x2":{"field":"u2"},"y2":{"field":"v2"}}},
 {"data":{"name":"ht"},"transform":[{"filter":"datum.p==1 && datum.t=='l'"}],"mark":{"type":"text","align":"right","baseline":"middle","fontSize":6.5,"color":"#333"},"encoding":{"text":{"field":"s"}}},
 {"data":{"name":"ht"},"transform":[{"filter":"datum.p==1 && datum.t=='s'"}],"mark":{"type":"text","align":"center","baseline":"middle","fontSize":8,"fontWeight":"bold","color":"#111"},"encoding":{"text":{"field":"s"}}},
 {"data":{"name":"ht"},"transform":[{"filter":"datum.p==1 && datum.t=='k'"}],"mark":{"type":"text","align":"center","baseline":"middle","fontSize":7.5,"color":"#333"},"encoding":{"text":{"field":"s"}}},
 {"data":{"name":"ht"},"transform":[{"filter":"datum.p==1 && datum.t=='D'"}],"mark":{"type":"text","align":"center","baseline":"middle","fontSize":13,"fontWeight":"bold","color":"#111"},"encoding":{"text":{"field":"s"}}},
 {"data":{"name":"ht"},"transform":[{"filter":"datum.p==1 && datum.t=='b'"}],"mark":{"type":"text","align":"center","baseline":"middle","fontSize":8,"fontWeight":"bold","color":"#000"},"encoding":{"text":{"field":"s"}}}
]
},
{
"width": 88, "height": 69,
"encoding": {
 "x": {"field":"u","type":"quantitative","scale":{"domain":[0,1],"nice":false,"zero":false},"axis":{"title":"K","labels":false,"ticks":true,"tickSize":2,"tickCount":8,"tickColor":"#999","domain":false,"grid":false,"titleFontSize":13,"titleFontWeight":"bold","titlePadding":11,"titleColor":"#111"}},
 "y": {"field":"v","type":"quantitative","scale":{"domain":[0,1],"nice":false,"zero":false},"axis":{"title":"N","labels":false,"ticks":true,"tickSize":2,"tickCount":6,"tickColor":"#999","domain":false,"grid":false,"titleFontSize":13,"titleFontWeight":"bold","titleAngle":0,"titleAlign":"right","titleBaseline":"middle","titlePadding":13,"titleColor":"#111"}}
},
"layer": [
 {"data":{"name":"bg"},"transform":[{"filter":"datum.p==2"}],"mark":"rect","encoding":{"x2":{"field":"u2"},"y2":{"field":"v2"},"color":{"field":"c","type":"quantitative","scale":{"domain":[0,1],"range":["#00ffff","#ff00ff"],"interpolate":"rgb"},"legend":{"title":null,"orient":"right","offset":3,"gradientLength":69,"gradientThickness":5,"gradientStrokeWidth":0,"values":[0,1],"labelExpr":"datum.value==0 ? '1' : 'N²FOV−3'","labelFontSize":6.5,"labelColor":"#333","labelOffset":-2,"padding":0}}}},
 {"data":{"name":"hm"},"transform":[{"filter":"datum.p==2"}],"mark":{"type":"area","interpolate":"monotone"},"encoding":{"y2":{"datum":1},"detail":{"field":"i","type":"nominal"},"color":{"field":"c","type":"quantitative","scale":{"domain":[0,1],"range":["#00ffff","#ff00ff"],"interpolate":"rgb"},"legend":{"title":null,"orient":"right","offset":3,"gradientLength":69,"gradientThickness":5,"gradientStrokeWidth":0,"values":[0,1],"labelExpr":"datum.value==0 ? '1' : 'N²FOV−3'","labelFontSize":6.5,"labelColor":"#333","labelOffset":-2,"padding":0}}}},
 {"data":{"name":"hl"},"transform":[{"filter":"datum.p==2"}],"mark":{"type":"rule","color":"#777","strokeWidth":0.8},"encoding":{"x2":{"field":"u2"},"y2":{"field":"v2"}}},
 {"data":{"name":"ht"},"transform":[{"filter":"datum.p==2 && datum.t=='l'"}],"mark":{"type":"text","align":"right","baseline":"middle","fontSize":6.5,"color":"#333"},"encoding":{"text":{"field":"s"}}},
 {"data":{"name":"ht"},"transform":[{"filter":"datum.p==2 && datum.t=='s'"}],"mark":{"type":"text","align":"center","baseline":"middle","fontSize":8,"fontWeight":"bold","color":"#111"},"encoding":{"text":{"field":"s"}}},
 {"data":{"name":"ht"},"transform":[{"filter":"datum.p==2 && datum.t=='k'"}],"mark":{"type":"text","align":"center","baseline":"middle","fontSize":7.5,"color":"#333"},"encoding":{"text":{"field":"s"}}},
 {"data":{"name":"ht"},"transform":[{"filter":"datum.p==2 && datum.t=='D'"}],"mark":{"type":"text","align":"center","baseline":"middle","fontSize":13,"fontWeight":"bold","color":"#111"},"encoding":{"text":{"field":"s"}}}
]
},
{
"width": 88, "height": 69,
"encoding": {
 "x": {"field":"u","type":"quantitative","scale":{"domain":[0,1],"nice":false,"zero":false},"axis":{"title":"K","labels":false,"ticks":true,"tickSize":2,"tickCount":8,"tickColor":"#999","domain":false,"grid":false,"titleFontSize":13,"titleFontWeight":"bold","titlePadding":15,"titleColor":"#111"}},
 "y": {"field":"v","type":"quantitative","scale":{"domain":[0,1],"nice":false,"zero":false},"axis":{"title":"N","labels":false,"ticks":true,"tickSize":2,"tickCount":6,"tickColor":"#999","domain":false,"grid":false,"titleFontSize":13,"titleFontWeight":"bold","titleAngle":0,"titleAlign":"right","titleBaseline":"middle","titlePadding":13,"titleColor":"#111"}}
},
"layer": [
 {"data":{"name":"bg"},"transform":[{"filter":"datum.p==3"}],"mark":"rect","encoding":{"x2":{"field":"u2"},"y2":{"field":"v2"},"color":{"field":"c","type":"quantitative","scale":{"domain":[0,1],"range":["#00ffff","#ff00ff"],"interpolate":"rgb"},"legend":{"title":null,"orient":"right","offset":3,"gradientLength":69,"gradientThickness":5,"gradientStrokeWidth":0,"values":[0,1],"labelExpr":"datum.value==0 ? '1' : 'N²FOV−2'","labelFontSize":6.5,"labelColor":"#333","labelOffset":-2,"padding":0}}}},
 {"data":{"name":"hm"},"transform":[{"filter":"datum.p==3"}],"mark":{"type":"area","interpolate":"monotone"},"encoding":{"y2":{"datum":1},"detail":{"field":"i","type":"nominal"},"color":{"field":"c","type":"quantitative","scale":{"domain":[0,1],"range":["#00ffff","#ff00ff"],"interpolate":"rgb"},"legend":{"title":null,"orient":"right","offset":3,"gradientLength":69,"gradientThickness":5,"gradientStrokeWidth":0,"values":[0,1],"labelExpr":"datum.value==0 ? '1' : 'N²FOV−2'","labelFontSize":6.5,"labelColor":"#333","labelOffset":-2,"padding":0}}}},
 {"data":{"name":"hl"},"transform":[{"filter":"datum.p==3"}],"mark":{"type":"rule","color":"#777","strokeWidth":0.8},"encoding":{"x2":{"field":"u2"},"y2":{"field":"v2"}}},
 {"data":{"name":"ht"},"transform":[{"filter":"datum.p==3 && datum.t=='l'"}],"mark":{"type":"text","align":"right","baseline":"middle","fontSize":6.5,"color":"#333"},"encoding":{"text":{"field":"s"}}},
 {"data":{"name":"ht"},"transform":[{"filter":"datum.p==3 && datum.t=='s'"}],"mark":{"type":"text","align":"center","baseline":"middle","fontSize":8,"fontWeight":"bold","color":"#111"},"encoding":{"text":{"field":"s"}}},
 {"data":{"name":"ht"},"transform":[{"filter":"datum.p==3 && datum.t=='k'"}],"mark":{"type":"text","align":"center","baseline":"middle","fontSize":7.5,"color":"#333"},"encoding":{"text":{"field":"s"}}},
 {"data":{"name":"ht"},"transform":[{"filter":"datum.p==3 && datum.t=='D'"}],"mark":{"type":"text","align":"center","baseline":"middle","fontSize":13,"fontWeight":"bold","color":"#111"},"encoding":{"text":{"field":"s"}}}
]
},
{
"width": 88, "height": 69,
"encoding": {
 "x": {"field":"u","type":"quantitative","scale":{"domain":[0,1],"nice":false,"zero":false},"axis":{"title":"K","labels":false,"ticks":true,"tickSize":2,"tickCount":8,"tickColor":"#999","domain":false,"grid":false,"titleFontSize":13,"titleFontWeight":"bold","titlePadding":12,"titleColor":"#111"}},
 "y": {"field":"v","type":"quantitative","scale":{"domain":[0,1],"nice":false,"zero":false},"axis":{"title":"N","labels":false,"ticks":true,"tickSize":2,"tickCount":6,"tickColor":"#999","domain":false,"grid":false,"titleFontSize":13,"titleFontWeight":"bold","titleAngle":0,"titleAlign":"right","titleBaseline":"middle","titlePadding":13,"titleColor":"#111"}}
},
"layer": [
 {"data":{"name":"bg"},"transform":[{"filter":"datum.p==4"}],"mark":"rect","encoding":{"x2":{"field":"u2"},"y2":{"field":"v2"},"color":{"field":"c","type":"quantitative","scale":{"domain":[0,1],"range":["#00ffff","#ff00ff"],"interpolate":"rgb"},"legend":{"title":null,"orient":"right","offset":3,"gradientLength":69,"gradientThickness":5,"gradientStrokeWidth":0,"values":[0,1],"labelExpr":"datum.value==0 ? '1' : 'N²FOV−1'","labelFontSize":6.5,"labelColor":"#333","labelOffset":-2,"padding":0}}}},
 {"data":{"name":"hm"},"transform":[{"filter":"datum.p==4"}],"mark":{"type":"area","interpolate":"monotone"},"encoding":{"y2":{"datum":1},"detail":{"field":"i","type":"nominal"},"color":{"field":"c","type":"quantitative","scale":{"domain":[0,1],"range":["#00ffff","#ff00ff"],"interpolate":"rgb"},"legend":{"title":null,"orient":"right","offset":3,"gradientLength":69,"gradientThickness":5,"gradientStrokeWidth":0,"values":[0,1],"labelExpr":"datum.value==0 ? '1' : 'N²FOV−1'","labelFontSize":6.5,"labelColor":"#333","labelOffset":-2,"padding":0}}}},
 {"data":{"name":"hl"},"transform":[{"filter":"datum.p==4"}],"mark":{"type":"rule","color":"#777","strokeWidth":0.8},"encoding":{"x2":{"field":"u2"},"y2":{"field":"v2"}}},
 {"data":{"name":"ht"},"transform":[{"filter":"datum.p==4 && datum.t=='l'"}],"mark":{"type":"text","align":"right","baseline":"middle","fontSize":6.5,"color":"#333"},"encoding":{"text":{"field":"s"}}},
 {"data":{"name":"ht"},"transform":[{"filter":"datum.p==4 && datum.t=='s'"}],"mark":{"type":"text","align":"center","baseline":"middle","fontSize":8,"fontWeight":"bold","color":"#111"},"encoding":{"text":{"field":"s"}}},
 {"data":{"name":"ht"},"transform":[{"filter":"datum.p==4 && datum.t=='k'"}],"mark":{"type":"text","align":"center","baseline":"middle","fontSize":7.5,"color":"#333"},"encoding":{"text":{"field":"s"}}},
 {"data":{"name":"ht"},"transform":[{"filter":"datum.p==4 && datum.t=='D'"}],"mark":{"type":"text","align":"center","baseline":"middle","fontSize":13,"fontWeight":"bold","color":"#111"},"encoding":{"text":{"field":"s"}}}
]
}
],
"spacing": 46,
"bounds": "flush",
"resolve": {"scale": {"color": "independent"}, "legend": {"color": "independent"}}
}
],
"config": {"view": {"stroke": null}, "font": "Liberation Sans", "background": "#ffffff"}
}
